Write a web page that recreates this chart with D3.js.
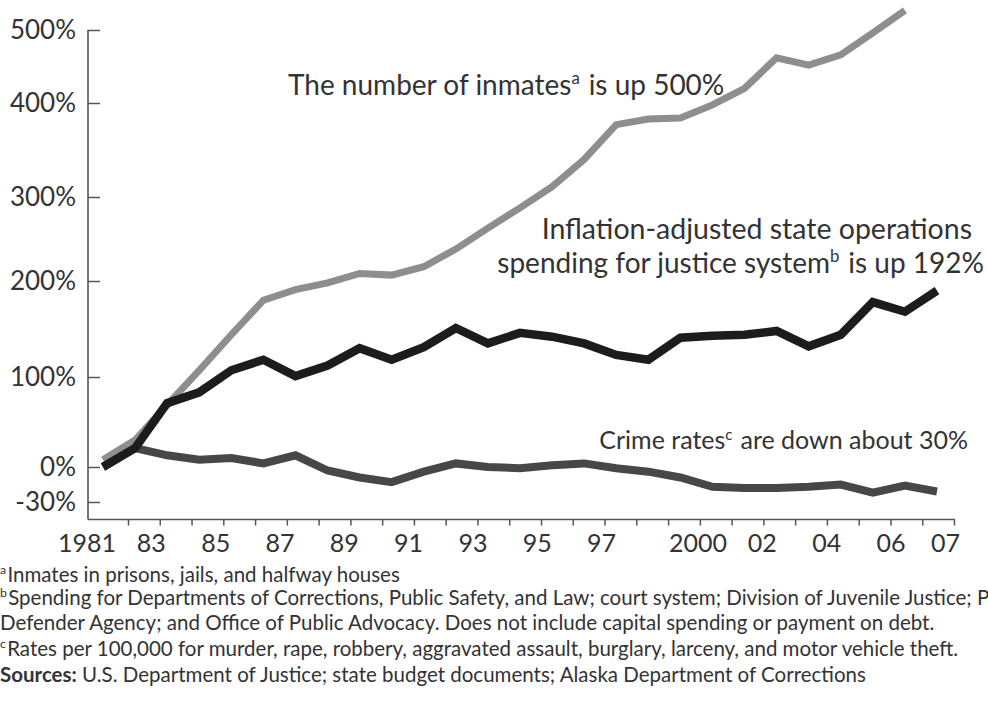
<!DOCTYPE html>
<html lang="en">
<head>
    <meta charset="UTF-8">
    <script src="https://d3js.org/d3.v7.min.js"></script>
    <title>Alaska justice system growth</title>
    <style>
        body { margin: 0; background: #fff; }
        text { font-family: Lato, "Noto Sans", sans-serif; fill: #333; }
    </style>
</head>
<body>
    <div id="chart"></div>
<script>
    // data (percent change since 1981)
    const years = [1981, 1982, 1983, 1984, 1985, 1986, 1987, 1988, 1989, 1990,
                   1991, 1992, 1993, 1994, 1995, 1996, 1997, 1998, 1999, 2000,
                   2001, 2002, 2003, 2004, 2005, 2006, 2007];
    const inmates  = [8, 30, 69, 107, 144, 180, 191, 198, 209, 207, 217, 238, 263, 287,
                      311, 340, 377, 383, 384, 398, 420, 462, 452, 466, 496, 527];
    const spending = [0, 21, 71, 83, 107, 118, 101, 112, 130, 118, 131, 151, 135, 146,
                      142, 135, 123, 118, 141, 143, 144, 148, 132, 144, 178, 168, 190];
    const crime    = [0, 21, 13, 8, 10, 4, 13, -3, -9, -13, -4, 4, 0, -1,
                      2, 4, -1, -4, -9, -17, -18, -18, -17, -15, -22, -16, -21];

    const yTicks = [-30, 0, 100, 200, 300, 400, 500];
    const labelYears = [1981, 1983, 1985, 1987, 1989, 1991, 1993, 1995, 1997, 2000, 2002, 2004, 2006, 2007];
    const labelText  = ["1981", "83", "85", "87", "89", "91", "93", "95", "97", "2000", "02", "04", "06", "07"];

    const W = 988, H = 719;
    const svg = d3.select("#chart").append("svg")
        .attr("width", W).attr("height", H);

    svg.append("rect").attr("width", W).attr("height", H).attr("fill", "#fff");

    // scales (the source chart is hand drawn, so the y steps are uneven)
    const x = d3.scaleLinear().domain([1981, 2007]).range([103, 937]);
    const xTick = d3.scaleLinear().domain([1981, 2007]).range([128, 954]);
    const xLab = d3.scaleLinear().domain([1981, 2006]).range([87, 891]);
    const y = d3.scaleLinear().domain(yTicks).range([502, 467, 377, 281, 197, 103, 30]);

    const axisX0 = 88, axisX1 = 955, axisY = y(-45);

    // Y axis
    svg.append("g")
       .attr("transform", "translate(" + axisX0 + ",0)")
       .call(d3.axisRight(y).tickValues(yTicks).tickSize(12).tickFormat(""))
       .call(g => g.select(".domain").remove())
       .selectAll("line").attr("stroke", "#555").attr("stroke-width", 1.5);

    svg.append("line")
       .attr("x1", axisX0).attr("x2", axisX0)
       .attr("y1", y(500)).attr("y2", axisY)
       .attr("stroke", "#555").attr("stroke-width", 1.6);

    svg.append("g").selectAll("text").data(yTicks).enter()
       .append("text")
       .attr("x", 76)
       .attr("y", d => y(d))
       .attr("dy", "0.35em")
       .attr("text-anchor", "end")
       .style("font-size", "26px")
       .text(d => d + "%");

    // X axis
    svg.append("line")
       .attr("x1", axisX0).attr("x2", axisX1)
       .attr("y1", axisY).attr("y2", axisY)
       .attr("stroke", "#555").attr("stroke-width", 1.6);

    svg.append("g")
       .attr("transform", "translate(0," + axisY + ")")
       .call(d3.axisBottom(xTick).tickValues(years).tickSize(6).tickFormat(""))
       .call(g => g.select(".domain").remove())
       .selectAll("line").attr("stroke", "#555").attr("stroke-width", 1.5);

    svg.append("g").selectAll("text").data(labelYears).enter()
       .append("text")
       .attr("x", (d, i) => i === labelYears.length - 1 ? axisX1 + 5 : xLab(d))
       .attr("y", 552)
       .attr("text-anchor", (d, i) => i === labelYears.length - 1 ? "end" : "middle")
       .style("font-size", "25px")
       .text((d, i) => labelText[i]);

    // lines
    const line = d3.line().x(d => x(d[0])).y(d => y(d[1]));
    function series(vals) { return vals.map((v, i) => [years[i], v]); }

    svg.append("path").datum(series(inmates))
       .attr("d", line).attr("fill", "none")
       .attr("stroke", "#8e8e8e").attr("stroke-width", 7);

    svg.append("path").datum(series(crime))
       .attr("d", line).attr("fill", "none")
       .attr("stroke", "#474747").attr("stroke-width", 8);

    svg.append("path").datum(series(spending))
       .attr("d", line).attr("fill", "none")
       .attr("stroke", "#1c1c1c").attr("stroke-width", 8.5);

    // annotations: parts = [text, superscript?]
    function rich(parent, xPos, yPos, anchor, size, parts) {
        const t = parent.append("text")
            .attr("x", xPos).attr("y", yPos)
            .attr("text-anchor", anchor)
            .style("font-size", size + "px");
        parts.forEach(p => {
            if (p.sup) {
                t.append("tspan").attr("dy", -size * 0.38)
                 .style("font-size", (size * 0.6) + "px").text(p.t);
                t.append("tspan").attr("dy", size * 0.38).text("\u200A");
            } else {
                t.append("tspan").style("font-weight", p.b ? "bold" : null).text(p.t);
            }
        });
        return t;
    }

    rich(svg, 288, 95, "start", 28, [{t: "The number of inmates"}, {t: "a", sup: true}, {t: " is up 500%"}]);
    rich(svg, 972, 239, "end", 28.5, [{t: "Inflation-adjusted state operations"}]);
    rich(svg, 984, 273, "end", 28, [{t: "spending for justice system"}, {t: "b", sup: true}, {t: " is up 192%"}]);
    rich(svg, 968, 449, "end", 25, [{t: "Crime rates"}, {t: "c", sup: true}, {t: " are down about 30%"}]);

    // footnotes
    const fs = 20.5;
    rich(svg, 0, 582, "start", fs, [{t: "a", sup: true}, {t: "Inmates in prisons, jails, and halfway houses"}]);
    rich(svg, 0, 605, "start", fs, [{t: "b", sup: true}, {t: "Spending for Departments of Corrections, Public Safety, and Law; court system; Division of Juvenile Justice; Public"}]);
    rich(svg, 0, 630, "start", fs, [{t: "Defender Agency; and Office of Public Advocacy. Does not include capital spending or payment on debt."}]);
    rich(svg, 0, 656, "start", fs, [{t: "c", sup: true}, {t: "Rates per 100,000 for murder, rape, robbery, aggravated assault, burglary, larceny, and motor vehicle theft."}]);
    rich(svg, 0, 682, "start", fs, [{t: "Sources:", b: true}, {t: " U.S. Department of Justice; state budget documents; Alaska Department of Corrections"}]);
</script>
</body>
</html>
